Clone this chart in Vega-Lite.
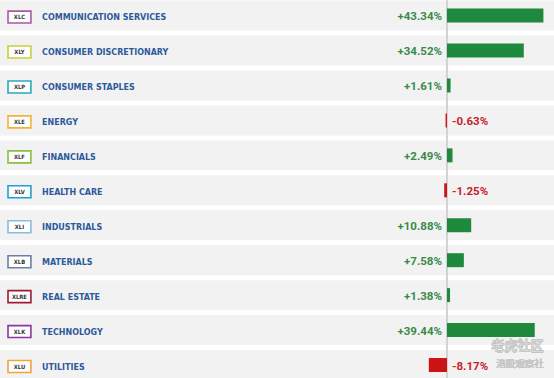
{
  "$schema": "https://vega.github.io/schema/vega-lite/v6.json",
  "width": 554,
  "height": 378,
  "autosize": {"type": "none"},
  "padding": 0,
  "background": "#ffffff",
  "config": {
    "view": {"stroke": null},
    "locale": {"number": {"decimal": ".", "thousands": ",", "grouping": [3], "currency": ["$", ""], "minus": "-"}}
  },
  "data": {
    "values": [
      {"sector": "COMMUNICATION SERVICES", "ticker": "XLC", "change": 0.4334},
      {"sector": "CONSUMER DISCRETIONARY", "ticker": "XLY", "change": 0.3452},
      {"sector": "CONSUMER STAPLES", "ticker": "XLP", "change": 0.0161},
      {"sector": "ENERGY", "ticker": "XLE", "change": -0.0063},
      {"sector": "FINANCIALS", "ticker": "XLF", "change": 0.0249},
      {"sector": "HEALTH CARE", "ticker": "XLV", "change": -0.0125},
      {"sector": "INDUSTRIALS", "ticker": "XLI", "change": 0.1088},
      {"sector": "MATERIALS", "ticker": "XLB", "change": 0.0758},
      {"sector": "REAL ESTATE", "ticker": "XLRE", "change": 0.0138},
      {"sector": "TECHNOLOGY", "ticker": "XLK", "change": 0.3944},
      {"sector": "UTILITIES", "ticker": "XLU", "change": -0.0817}
    ]
  },
  "encoding": {
    "y": {
      "field": "sector",
      "type": "nominal",
      "sort": null,
      "axis": null,
      "scale": {"range": [0.6, 380], "paddingInner": 0.142857, "paddingOuter": 0}
    }
  },
  "layer": [
    {
      "mark": {"type": "bar", "color": "#f2f2f2"},
      "encoding": {
        "x": {"datum": -2.009, "type": "quantitative", "scale": {"domain": [-2.009, 0.481], "zero": false, "nice": false}, "axis": null},
        "x2": {"datum": 0.481}
      }
    },
    {
      "mark": {"type": "rule", "color": "#d2d2d2", "strokeWidth": 1},
      "encoding": {
        "x": {"datum": 0, "type": "quantitative"},
        "y": {"value": 0},
        "y2": {"value": 378}
      }
    },
    {
      "mark": {"type": "bar", "height": {"band": 0.467}},
      "encoding": {
        "x": {"field": "change", "type": "quantitative"},
        "x2": {"datum": 0},
        "color": {"condition": {"test": "datum.change >= 0", "value": "#1f8a3d"}, "value": "#cc1414"}
      }
    },
    {
      "transform": [{"filter": "datum.change >= 0"}],
      "mark": {"type": "text", "align": "right", "baseline": "middle", "dx": -5, "dy": 1.5, "font": "Roboto", "fontWeight": "bold", "fontSize": 11.5, "color": "#3b8a4b"},
      "encoding": {
        "x": {"datum": 0, "type": "quantitative"},
        "text": {"field": "change", "type": "quantitative", "format": "+.2%"}
      }
    },
    {
      "transform": [{"filter": "datum.change < 0"}],
      "mark": {"type": "text", "align": "left", "baseline": "middle", "dx": 5, "dy": 1.5, "font": "Roboto", "fontWeight": "bold", "fontSize": 11.5, "color": "#c8202c"},
      "encoding": {
        "x": {"datum": 0, "type": "quantitative"},
        "text": {"field": "change", "type": "quantitative", "format": "+.2%"}
      }
    },
    {
      "mark": {"type": "bar", "height": {"band": 0.4}, "fill": "#ffffff", "strokeWidth": 1.6},
      "encoding": {
        "x": {"datum": -1.973, "type": "quantitative"},
        "x2": {"datum": -1.87},
        "yOffset": {"value": 1.5},
        "stroke": {
          "field": "ticker",
          "type": "nominal",
          "legend": null,
          "scale": {
            "domain": ["XLC", "XLY", "XLP", "XLE", "XLF", "XLV", "XLI", "XLB", "XLRE", "XLK", "XLU"],
            "range": ["#a659a8", "#c9cf3c", "#2aaab8", "#f2b533", "#8bbf45", "#1f9fd6", "#86bde3", "#6f7ea6", "#9e1b32", "#8a36a0", "#f2a33a"]
          }
        }
      }
    },
    {
      "mark": {"type": "text", "align": "center", "baseline": "middle", "dy": 1.5, "font": "DejaVu Sans Condensed", "fontWeight": "bold", "fontSize": 5.8, "color": "#333333"},
      "encoding": {
        "x": {"datum": -1.9215, "type": "quantitative"},
        "text": {"field": "ticker", "type": "nominal"}
      }
    },
    {
      "mark": {"type": "text", "align": "left", "baseline": "middle", "dy": 1.5, "font": "DejaVu Sans Condensed", "fontWeight": "bold", "fontSize": 8.9, "color": "#2d5a9b"},
      "encoding": {
        "x": {"datum": -1.82, "type": "quantitative"},
        "text": {"field": "sector", "type": "nominal"}
      }
    },
    {
      "mark": {"type": "text", "align": "center", "baseline": "middle", "font": "Noto Sans CJK SC", "fontSize": 13, "fill": "#ffffff", "stroke": "#c4c4c4", "strokeWidth": 0.6, "opacity": 0.9},
      "encoding": {
        "x": {"datum": 0.3169, "type": "quantitative"},
        "y": {"datum": "TECHNOLOGY"},
        "yOffset": {"value": 31},
        "text": {"value": "老虎社区"}
      }
    },
    {
      "mark": {"type": "text", "align": "center", "baseline": "middle", "font": "Noto Sans CJK SC", "fontSize": 9.5, "color": "#c8c8c8", "opacity": 0.9},
      "encoding": {
        "x": {"datum": 0.328, "type": "quantitative"},
        "y": {"datum": "UTILITIES"},
        "yOffset": {"value": 14},
        "text": {"value": "港股观察社"}
      }
    }
  ]
}
